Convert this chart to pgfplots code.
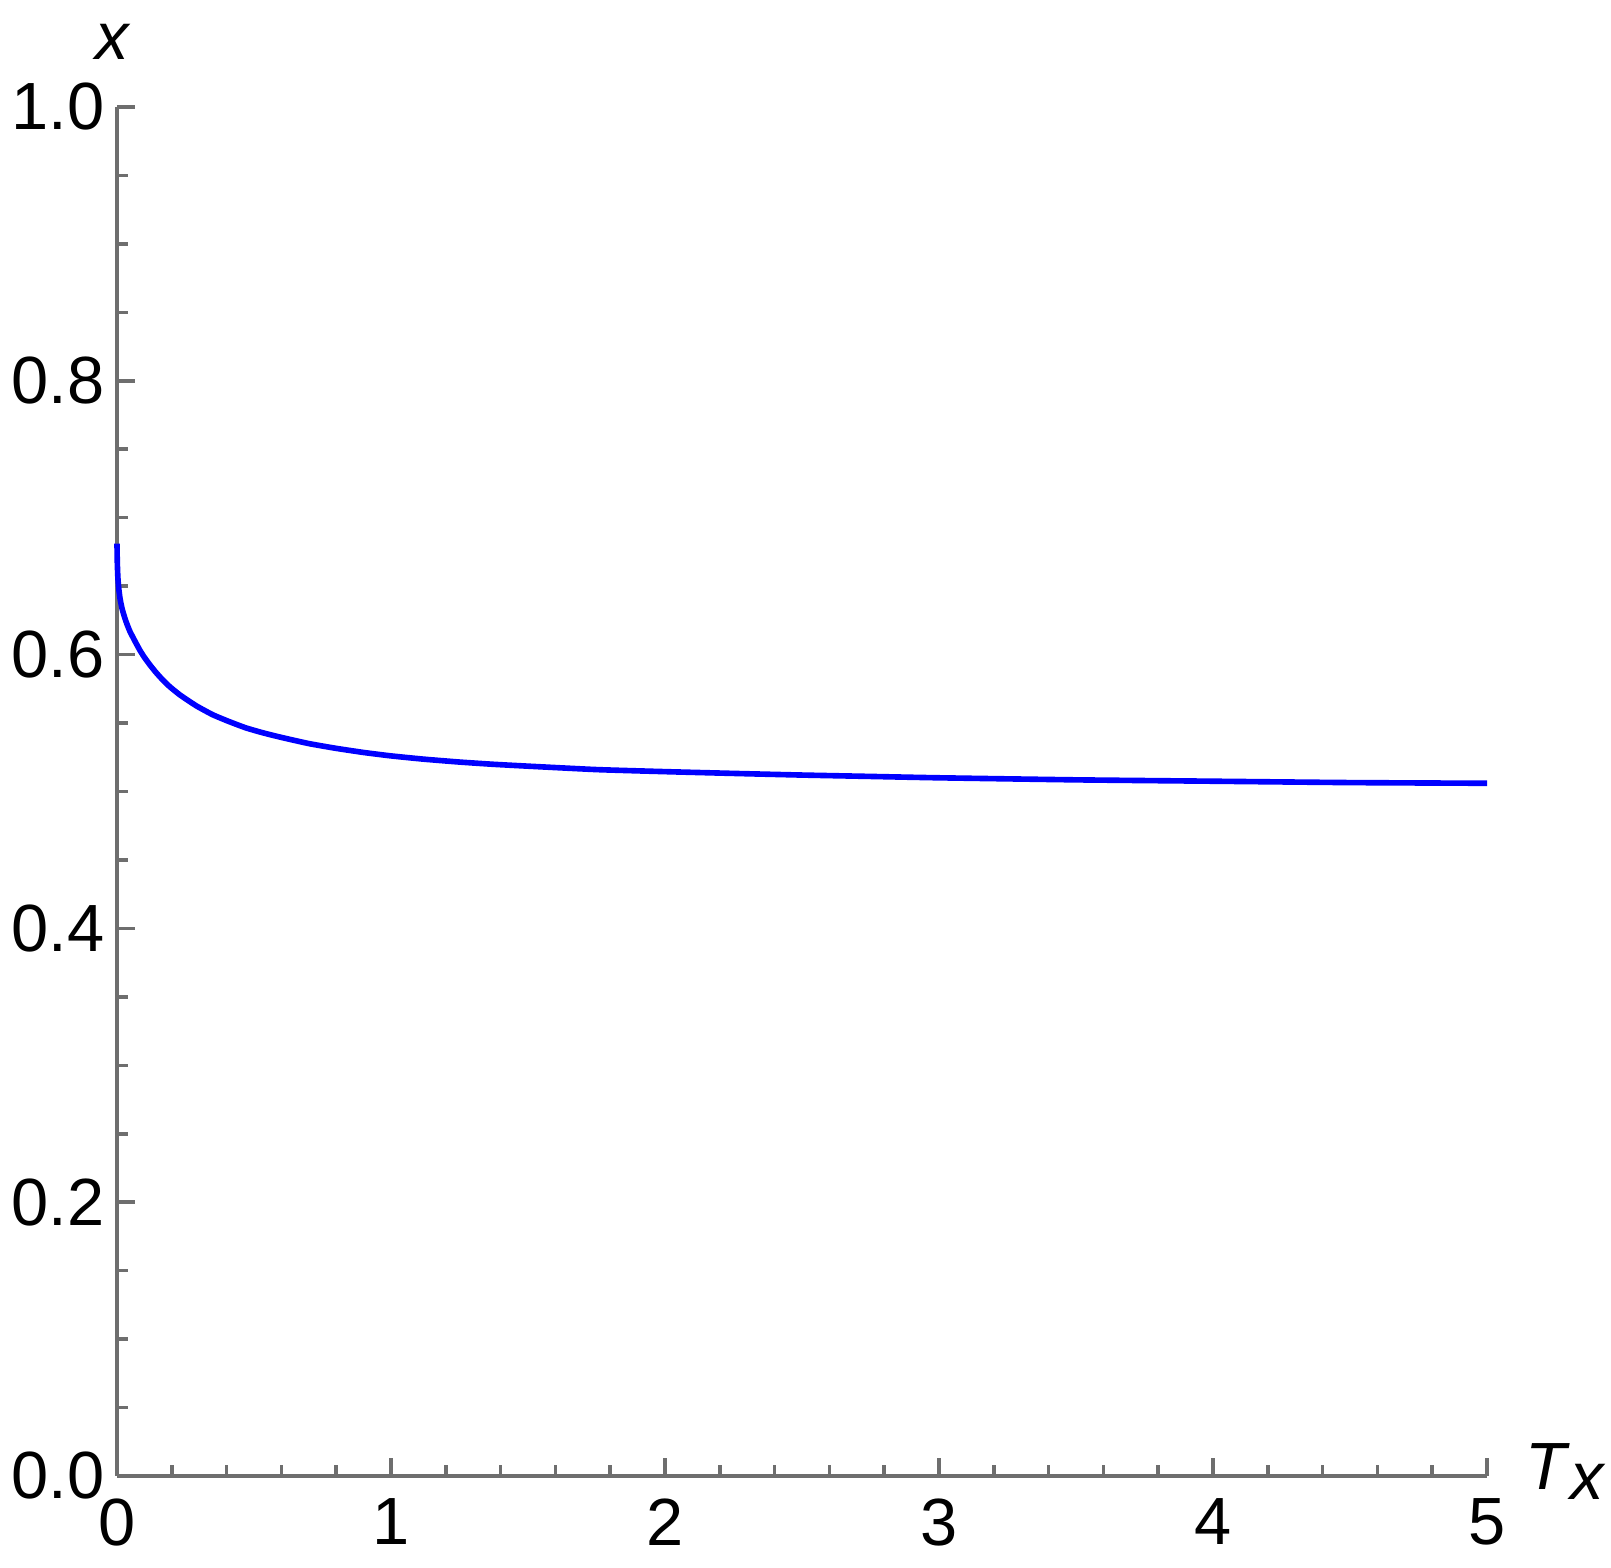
\documentclass[border=0pt]{standalone}
\usepackage{fontspec}
\setmainfont{Liberation Sans}
\usepackage{pgfplots}
\pgfplotsset{compat=1.18}
\definecolor{axisgray}{HTML}{6E6E6E}
\definecolor{curveblue}{HTML}{0000FF}

\begin{document}
\begin{tikzpicture}
% frame = whole picture, plot area starts at the origin
\path[use as bounding box] (-1.17,-0.92) rectangle (14.94,14.76);
\begin{axis}[
  scale only axis,
  width=13.70cm,
  height=13.69cm,
  xmin=0, xmax=5,
  ymin=0, ymax=1,
  axis lines*=left,
  axis line style={axisgray, line width=1.1pt},
  tick align=inside,
  tick style={axisgray, line width=1.0pt},
  major tick length=0.18cm,
  minor tick length=0.11cm,
  xtick={0,1,2,3,4,5},
  ytick={0,0.2,0.4,0.6,0.8,1.0},
  minor x tick num=4,
  minor y tick num=3,
  /pgf/number format/assume math mode=true,
  tick label style={font=\fontsize{19}{22}\selectfont, color=black, inner sep=0pt},
  xticklabel style={yshift=-0.22cm},
  yticklabel style={xshift=-0.12cm, /pgf/number format/.cd, fixed, fixed zerofill, precision=1},
  every axis y label/.style={at={(axis description cs:-0.003,1.0475)}, anchor=center, inner sep=0pt},
  every axis x label/.style={at={(axis description cs:1.0277,0.003)}, anchor=west, inner sep=0pt},
  label style={font=\fontsize{19}{22}\selectfont},
  ylabel={\textit{x}},
  xlabel={\textit{T}\raisebox{-0.15em}{\textit{x}}},
  clip=false,
]
\addplot[curveblue, line width=1.6pt, line join=round, smooth, tension=0.3] coordinates {
  (0,0.681) (0.001,0.668) (0.003,0.657) (0.006,0.649) (0.011,0.641)
  (0.018,0.634) (0.025,0.629) (0.035,0.623) (0.047,0.617) (0.065,0.610)
  (0.084,0.603) (0.10,0.598) (0.12,0.5925) (0.14,0.5875) (0.16,0.583)
  (0.19,0.577) (0.23,0.5705) (0.29,0.5625) (0.35,0.556) (0.41,0.551)
  (0.47,0.5465) (0.53,0.543) (0.6,0.5395) (0.7,0.535) (0.8,0.5315)
  (0.9,0.5285) (1.0,0.526) (1.12,0.5236) (1.25,0.5215) (1.37,0.5199)
  (1.5,0.5185) (1.75,0.516) (2.0,0.5145) (2.25,0.5132) (2.5,0.512)
  (2.75,0.511) (3.0,0.510) (3.5,0.5085) (4.0,0.5075) (4.5,0.5065) (5.0,0.506)
};
\end{axis}
\end{tikzpicture}
\end{document}
